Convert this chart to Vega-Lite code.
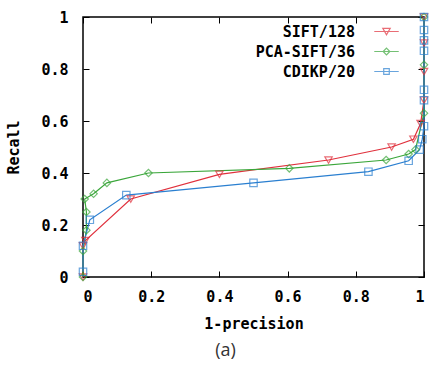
{
  "$schema": "https://vega.github.io/schema/vega-lite/v6.json",
  "width": 341,
  "height": 260,
  "autosize": {"type": "none"},
  "padding": {"left": 83, "top": 17, "right": 9, "bottom": 88},
  "background": "white",
  "title": {
    "text": "(a)",
    "orient": "bottom",
    "anchor": "middle",
    "font": "Open Sans",
    "fontSize": 18,
    "fontWeight": "normal",
    "color": "#333333",
    "dx": -28,
    "offset": 11
  },
  "config": {
    "view": {"stroke": "black", "strokeWidth": 1.5},
    "axis": {
      "grid": false,
      "domain": false,
      "tickColor": "black",
      "tickSize": -6,
      "tickWidth": 1,
      "labelFont": "DejaVu Sans Mono",
      "labelFontWeight": "bold",
      "labelFontSize": 15,
      "labelColor": "black",
      "titleFont": "DejaVu Sans Mono",
      "titleFontWeight": "bold",
      "titleFontSize": 15,
      "titleColor": "black"
    },
    "legend": {
      "title": null,
      "orient": "none",
      "legendX": 296,
      "legendY": 7,
      "padding": 0,
      "rowPadding": 4,
      "symbolSize": 55,
      "symbolStrokeWidth": 1.2,
      "labelFont": "DejaVu Sans Mono",
      "labelFontWeight": "bold",
      "labelFontSize": 15,
      "labelColor": "black",
      "labelAlign": "right",
      "labelOffset": -39
    }
  },
  "data": {
    "values": [
      {"series": "SIFT/128", "k": 1, "x": 0, "y": 0},
      {"series": "SIFT/128", "k": 2, "x": 0, "y": 0.12},
      {"series": "SIFT/128", "k": 3, "x": 0.007, "y": 0.14},
      {"series": "SIFT/128", "k": 4, "x": 0.14, "y": 0.3},
      {"series": "SIFT/128", "k": 5, "x": 0.4, "y": 0.395},
      {"series": "SIFT/128", "k": 6, "x": 0.72, "y": 0.45},
      {"series": "SIFT/128", "k": 7, "x": 0.905, "y": 0.5},
      {"series": "SIFT/128", "k": 8, "x": 0.969, "y": 0.53},
      {"series": "SIFT/128", "k": 9, "x": 0.99, "y": 0.59},
      {"series": "SIFT/128", "k": 10, "x": 1, "y": 0.68},
      {"series": "SIFT/128", "k": 11, "x": 1, "y": 0.79},
      {"series": "SIFT/128", "k": 12, "x": 1, "y": 0.9},
      {"series": "SIFT/128", "k": 13, "x": 1, "y": 1.0},
      {"series": "PCA-SIFT/36", "k": 1, "x": 0, "y": 0},
      {"series": "PCA-SIFT/36", "k": 2, "x": 0, "y": 0.1},
      {"series": "PCA-SIFT/36", "k": 3, "x": 0.01, "y": 0.18},
      {"series": "PCA-SIFT/36", "k": 4, "x": 0.01, "y": 0.25},
      {"series": "PCA-SIFT/36", "k": 5, "x": 0.005, "y": 0.3},
      {"series": "PCA-SIFT/36", "k": 6, "x": 0.031, "y": 0.32},
      {"series": "PCA-SIFT/36", "k": 7, "x": 0.07, "y": 0.362},
      {"series": "PCA-SIFT/36", "k": 8, "x": 0.192, "y": 0.4},
      {"series": "PCA-SIFT/36", "k": 9, "x": 0.605, "y": 0.418},
      {"series": "PCA-SIFT/36", "k": 10, "x": 0.889, "y": 0.45},
      {"series": "PCA-SIFT/36", "k": 11, "x": 0.955, "y": 0.473},
      {"series": "PCA-SIFT/36", "k": 12, "x": 0.975, "y": 0.49},
      {"series": "PCA-SIFT/36", "k": 13, "x": 1, "y": 0.63},
      {"series": "PCA-SIFT/36", "k": 14, "x": 1, "y": 0.816},
      {"series": "PCA-SIFT/36", "k": 15, "x": 1, "y": 1.0},
      {"series": "CDIKP/20", "k": 1, "x": 0, "y": 0.02},
      {"series": "CDIKP/20", "k": 2, "x": 0, "y": 0.12},
      {"series": "CDIKP/20", "k": 3, "x": 0.02, "y": 0.22},
      {"series": "CDIKP/20", "k": 4, "x": 0.127, "y": 0.315},
      {"series": "CDIKP/20", "k": 5, "x": 0.5, "y": 0.362},
      {"series": "CDIKP/20", "k": 6, "x": 0.837, "y": 0.405},
      {"series": "CDIKP/20", "k": 7, "x": 0.955, "y": 0.447},
      {"series": "CDIKP/20", "k": 8, "x": 0.987, "y": 0.49},
      {"series": "CDIKP/20", "k": 9, "x": 0.995, "y": 0.53},
      {"series": "CDIKP/20", "k": 10, "x": 1, "y": 0.58},
      {"series": "CDIKP/20", "k": 11, "x": 1, "y": 0.68},
      {"series": "CDIKP/20", "k": 12, "x": 1, "y": 0.72},
      {"series": "CDIKP/20", "k": 13, "x": 1, "y": 0.87},
      {"series": "CDIKP/20", "k": 14, "x": 1, "y": 0.91},
      {"series": "CDIKP/20", "k": 15, "x": 1, "y": 0.95},
      {"series": "CDIKP/20", "k": 16, "x": 1, "y": 1.0}
    ]
  },
  "resolve": {
    "axis": {"x": "independent", "y": "independent"},
    "scale": {"shape": "independent"},
    "legend": {"shape": "independent", "color": "independent"}
  },
  "layer": [
    {
      "mark": {"type": "line", "strokeWidth": 1.2, "clip": false},
      "encoding": {
        "x": {
          "field": "x", "type": "quantitative",
          "scale": {"domain": [0, 1], "nice": false, "zero": false},
          "axis": {"orient": "bottom", "values": [0, 0.2, 0.4, 0.6, 0.8, 1], "format": "~g", "title": "1-precision", "labelPadding": 18, "titlePadding": 12}
        },
        "y": {
          "field": "y", "type": "quantitative",
          "scale": {"domain": [0, 1], "nice": false, "zero": false},
          "axis": {"orient": "left", "values": [0, 0.2, 0.4, 0.6, 0.8, 1], "format": "~g", "title": "Recall", "labelPadding": 21, "titlePadding": 19}
        },
        "color": {
          "field": "series", "type": "nominal",
          "scale": {"domain": ["SIFT/128", "PCA-SIFT/36", "CDIKP/20"], "range": ["#e0303c", "#3aa63a", "#2a7fd0"]},
          "legend": null
        },
        "detail": {"field": "series"},
        "order": {"field": "k", "type": "quantitative"}
      }
    },
    {
      "mark": {"type": "point", "filled": false, "size": 55, "strokeWidth": 1.2, "clip": false},
      "encoding": {
        "x": {
          "field": "x", "type": "quantitative",
          "scale": {"domain": [0, 1], "nice": false, "zero": false},
          "axis": {"orient": "top", "values": [0, 0.2, 0.4, 0.6, 0.8, 1], "labels": false, "title": null}
        },
        "y": {
          "field": "y", "type": "quantitative",
          "scale": {"domain": [0, 1], "nice": false, "zero": false},
          "axis": {"orient": "right", "values": [0, 0.2, 0.4, 0.6, 0.8, 1], "labels": false, "title": null}
        },
        "color": {
          "field": "series", "type": "nominal",
          "scale": {"domain": ["SIFT/128", "PCA-SIFT/36", "CDIKP/20"], "range": ["#e0303c", "#3aa63a", "#2a7fd0"]},
          "legend": null
        },
        "shape": {
          "field": "series", "type": "nominal",
          "scale": {"domain": ["SIFT/128", "PCA-SIFT/36", "CDIKP/20"], "range": ["triangle-down", "diamond", "square"]},
          "legend": null
        }
      }
    },
    {
      "transform": [{"filter": "datum.k < 0"}],
      "mark": {"type": "point", "filled": false, "size": 55, "strokeWidth": 1.2, "clip": false},
      "encoding": {
        "x": {"field": "x", "type": "quantitative", "axis": null},
        "y": {"field": "y", "type": "quantitative", "axis": null},
        "color": {
          "field": "series", "type": "nominal",
          "scale": {"domain": ["SIFT/128", "PCA-SIFT/36", "CDIKP/20"], "range": ["#e0303c", "#3aa63a", "#2a7fd0"]},
          "legend": {"title": null}
        },
        "shape": {
          "field": "series", "type": "nominal",
          "scale": {
            "domain": ["SIFT/128", "PCA-SIFT/36", "CDIKP/20"],
            "range": [
              "M-3.3,0L3.3,0M-1,-0.85L1,-0.85L0,0.9Z",
              "M-3.3,0L3.3,0M0,-0.9L0.9,0L0,0.9L-0.9,0Z",
              "M-3.3,0L3.3,0M-0.75,-0.75L0.75,-0.75L0.75,0.75L-0.75,0.75Z"
            ]
          },
          "legend": {"title": null}
        }
      }
    }
  ]
}
